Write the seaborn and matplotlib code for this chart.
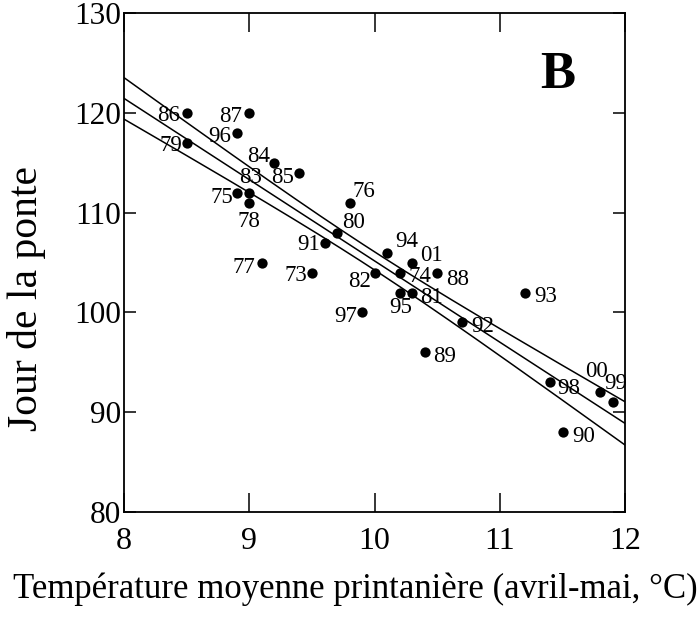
import matplotlib

matplotlib.use("Agg")
import matplotlib.pyplot as plt
import numpy as np
import pandas as pd
import seaborn as sns

# mean spring temperature (April-May, °C) and laying date, one point per year
years = ["73", "74", "75", "76", "77", "78", "79", "80", "81", "82",
         "83", "84", "85", "86", "87", "88", "89", "90", "91", "92",
         "93", "94", "95", "96", "97", "98", "99", "00", "01"]
temperature = [9.5, 10.2, 8.9, 9.8, 9.1, 9.0, 8.5, 9.7, 10.3, 10.0,
               9.0, 9.2, 9.4, 8.5, 9.0, 10.5, 10.4, 11.5, 9.6, 10.7,
               11.2, 10.1, 10.2, 8.9, 9.9, 11.4, 11.9, 11.8, 10.3]
laying_day = [104, 104, 112, 111, 105, 111, 117, 108, 102, 104,
              112, 115, 114, 120, 120, 104, 96, 88, 107, 99,
              102, 106, 102, 118, 100, 93, 91, 92, 105]

# where each year label sits relative to its dot (pixels)
label_offsets = {
    "73": (-16, -3), "74": (20, -4), "75": (-15, -5), "76": (14, 11),
    "77": (-18, -5), "78": (0, -19), "79": (-16, -3), "80": (17, 10),
    "81": (19, -5), "82": (-15, -9), "83": (1, 15), "84": (-16, 6),
    "85": (-17, -5), "86": (-18, -3), "87": (-19, -4), "88": (20, -7),
    "89": (20, -4), "90": (21, -4), "91": (-16, -2), "92": (20, -4),
    "93": (21, -4), "94": (20, 11), "95": (1, -15), "96": (-17, -4),
    "97": (-16, -4), "98": (19, -6), "99": (3, 19), "00": (-4, 21),
    "01": (19, 7),
}

T_CRIT = 1.314  # t(0.90, df=27): band of the fitted mean

sns.set_style("ticks")
plt.rcParams["font.family"] = ["Liberation Serif", "DejaVu Serif"]
plt.rcParams.update({
    "text.color": "black",
    "axes.labelcolor": "black",
    "xtick.color": "black",
    "ytick.color": "black",
    "axes.edgecolor": "black",
})

df = pd.DataFrame({"year": years, "temp": temperature, "day": laying_day})

fig = plt.figure(figsize=(6.97, 6.26), dpi=100)
ax = fig.add_axes([0.178, 0.182, 0.719, 0.797])
ax.set_xlim(8, 12)
ax.set_ylim(80, 130)

sns.regplot(
    data=df, x="temp", y="day", ax=ax, ci=None, truncate=False,
    color="black",
    scatter_kws={"s": 55, "linewidths": 0, "alpha": 1, "zorder": 3},
    line_kws={"linewidth": 1.1},
)

# confidence band of the fitted mean, drawn as two lines
x = df["temp"].to_numpy()
y = df["day"].to_numpy()
n = len(x)
slope, intercept = np.polyfit(x, y, 1)
resid = y - (intercept + slope * x)
s = np.sqrt(np.sum(resid ** 2) / (n - 2))
sxx = np.sum((x - x.mean()) ** 2)
grid = np.linspace(8, 12, 200)
fit = intercept + slope * grid
half = T_CRIT * s * np.sqrt(1 / n + (grid - x.mean()) ** 2 / sxx)
ax.plot(grid, fit + half, color="black", linewidth=1.1)
ax.plot(grid, fit - half, color="black", linewidth=1.1)

for yr, tx, dy in zip(years, temperature, laying_day):
    ox, oy = label_offsets[yr]
    ax.annotate(yr, (tx, dy), xytext=(ox, oy), textcoords="offset pixels",
                ha="center", va="center", fontsize=16.5, zorder=4)

ax.text(11.46, 123.8, "B", fontsize=38, fontweight="bold",
        ha="center", va="center")

ax.set_xticks([8, 9, 10, 11, 12])
ax.set_yticks([80, 90, 100, 110, 120, 130])
ax.tick_params(axis="both", which="both", direction="in",
               width=1.1, color="black")
ax.tick_params(axis="x", top=True, length=14, pad=11, labelsize=23)
ax.tick_params(axis="y", right=True, length=8.5, pad=2, labelsize=22.5)
for sp in ax.spines.values():
    sp.set_linewidth(1.3)

ax.set_xlabel("Température moyenne printanière (avril-mai, °C)", fontsize=25)
ax.set_ylabel("Jour de la ponte", fontsize=30)
ax.xaxis.set_label_coords(0.461, -0.122)
ax.yaxis.set_label_coords(-0.155, 0.429)

fig.savefig("out.png", dpi=100)
